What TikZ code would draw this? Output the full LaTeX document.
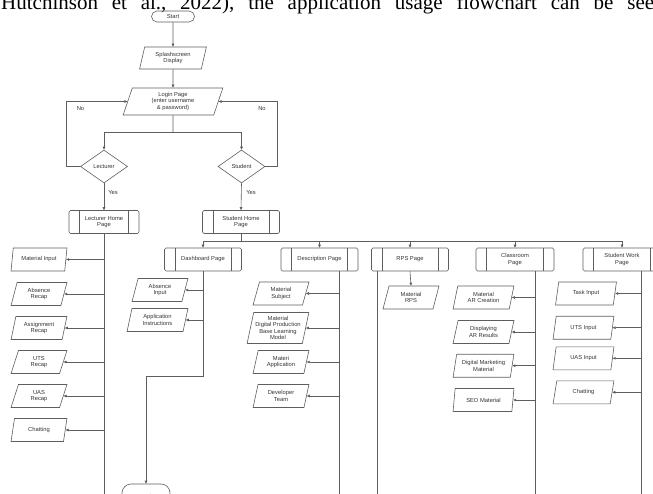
\documentclass[tikz,border=0pt]{standalone}
\usepackage{fontspec}
\setmainfont{Liberation Sans}
\newfontfamily\serifF{Liberation Serif}
\usetikzlibrary{shapes.geometric,arrows.meta}
\definecolor{lc}{HTML}{5E5E5E}
\definecolor{tc}{HTML}{333333}
\begin{document}
\begin{tikzpicture}[x=1pt,y=-1pt,
  line/.style={draw=lc, line width=0.6pt},
  arr/.style={line, -{Triangle[length=3pt,width=2.6pt]}},
  txt/.style={font=\fontsize{5.8}{6.6}\selectfont, text=tc, align=center},
  io/.style={trapezium, trapezium left angle=76, trapezium right angle=104, trapezium stretches=true,
     draw=lc, line width=0.6pt, minimum width=56pt, minimum height=23pt, inner sep=0.5pt, txt},
  pp/.style={rectangle, rounded corners=1.5pt, draw=lc, line width=0.6pt, minimum width=77pt, minimum height=23pt,
     inner sep=1pt, txt,
     path picture={
       \draw[lc, line width=0.6pt] ([xshift=10.5pt]path picture bounding box.north west) -- ([xshift=10.5pt]path picture bounding box.south west);
       \draw[lc, line width=0.6pt] ([xshift=-10.5pt]path picture bounding box.north east) -- ([xshift=-10.5pt]path picture bounding box.south east);}},
  term/.style={rectangle, rounded corners=5.5pt, draw=lc, line width=0.6pt, minimum width=43pt, minimum height=11pt, inner sep=0pt, txt},
  dia/.style={diamond, draw=lc, line width=0.6pt, minimum width=47pt, minimum height=33pt, inner sep=0pt, txt},
  lbl/.style={txt, inner sep=0pt}
]
\path[use as bounding box] (0,0) rectangle (653,494);
\clip (0,0) rectangle (653,494);

\node[anchor=base west, inner sep=0pt, font=\serifF\fontsize{21}{24}\selectfont, text=black] (toptext) at (1,9.5)
  {\frenchspacing\spaceskip=13.8pt Hutchinson et al., 2022), the application usage flowchart can be seen};

% main flow
\node[term] (start) at (173,16.5) {Start};
\node[io, minimum width=67pt, minimum height=22pt] (splash) at (173,58) {Splashscreen\\Display};
\node[io, minimum width=100pt, minimum height=27pt] (login) at (173,101.5) {Login Page\\(enter username\\\& password)};
\node[dia] (lect) at (104,166.5) {Lecturer};
\node[dia] (stud) at (241.5,166.5) {Student};
\coordinate (split) at (173,132);
\coordinate (lloop) at (66,166.5);
\coordinate (rloop) at (277,166.5);

\draw[arr] (start) -- (splash);
\draw[arr] (splash) -- (login);
\draw[line] (login.south) -- (split);
\draw[arr] (split) -| (lect.north);
\draw[arr] (split) -| (stud.north);
\draw[arr] (lect.west) -- (lloop) |- (login.west);
\draw[arr] (stud.east) -- (rloop) |- (login.east);
\node[lbl] (no1) at (80.5,109) {No};
\node[lbl] (no2) at (262,109) {No};
\node[lbl] (yes1) at (113,193) {Yes};
\node[lbl] (yes2) at (251,193) {Yes};

% home pages
\node[pp, minimum width=70pt] (lhp) at (104,222) {Lecturer Home\\Page};
\node[pp] (shp) at (241,222) {Student Home\\Page};
\draw[arr] (lect.south) -- (lhp.north);
\draw[arr] (stud.south) -- (shp.north);

% end
\node[rectangle, rounded corners=9pt, draw=lc, line width=0.6pt, minimum width=48pt, minimum height=24pt, txt] (endn) at (146,496) {End};

% lecturer items
\node[io] (lm1) at (39,259.5) {Material Input};
\node[io] (lm2) at (39,294) {Absence\\Recap};
\node[io] (lm3) at (39,328) {Assignment\\Recap};
\node[io] (lm4) at (39,362) {UTS\\Recap};
\node[io] (lm5) at (39,396) {UAS\\Recap};
\node[io] (lm6) at (39,430) {Chatting};
\draw[arr] (lhp.south) |- (endn.west);
\foreach \n in {lm1,lm2,lm3,lm4,lm5,lm6}
  \draw[arr] (lhp.south |- \n.east) -- (\n.east);

% student pages
\coordinate (bus) at (241,241);
\node[pp] (dash) at (203,259.5) {Dashboard Page};
\node[pp] (desc) at (319.5,259.5) {Description Page};
\node[pp] (rps) at (410,259.5) {RPS Page};
\node[pp, minimum width=78pt] (cls) at (515,259.5) {Classroom\\Page};
\node[pp, minimum width=78pt] (work) at (622,259.5) {Student Work\\Page};
\draw[line] (shp.south) -- (bus);
\draw[line] (dash.north |- bus) -- (work.north |- bus);
\foreach \n in {dash,desc,rps,cls,work}
  \draw[arr] (\n.north |- bus) -- (\n.north);

% dashboard
\node[io] (da1) at (160,290) {Absence\\Input};
\node[io, minimum width=61pt] (da2) at (157.5,320) {Application\\Instructions};
\coordinate (dturn) at (146,376);
\draw[arr] (dash.south) |- (dturn) -- (endn.north);
\foreach \n in {da1,da2}
  \draw[arr] (dash.south |- \n.east) -- (\n.east);

% description
\coordinate (dtr) at ([xshift=19.5pt]desc.south);
\node[io] (de1) at (281,293.5) {Material\\Subject};
\node[io, minimum width=62pt, minimum height=31pt] (de2) at (278,328) {Material\\Digital Production\\Base Learning\\Model};
\node[io] (de3) at (281,362) {Materi\\Application};
\node[io] (de4) at (281,396) {Developer\\Team};
\draw[arr] (dtr) |- (endn.east);
\foreach \n in {de1,de2,de3,de4}
  \draw[arr] (dtr |- \n.east) -- (\n.east);

% RPS
\coordinate (rtr) at ([xshift=-33pt]rps.south);
\node[io] (rp1) at (411,297.5) {Material\\RPS};
\draw[arr] (rps.south) -- (rp1.north);
\draw[line] (rtr) -- (rtr |- endn.east);

% classroom
\coordinate (ctr) at ([xshift=20pt]cls.south);
\node[io, minimum width=61pt] (cl1) at (483.5,297.5) {Material\\AR Creation};
\node[io, minimum width=61pt] (cl2) at (483.5,332) {Displaying\\AR Results};
\node[io, minimum width=61pt] (cl3) at (483.5,365.7) {Digital Marketing\\Material};
\node[io, minimum width=61pt] (cl4) at (483.5,400) {SEO Material};
\draw[line] (ctr) -- (ctr |- endn.east);
\foreach \n in {cl1,cl2,cl3,cl4}
  \draw[arr] (ctr |- \n.east) -- (\n.east);

% student work
\coordinate (wtr) at ([xshift=19pt]work.south);
\node[io, minimum width=61pt] (sw1) at (586,293.5) {Task Input};
\node[io, minimum width=61pt] (sw2) at (583.5,327.7) {UTS Input};
\node[io, minimum width=61pt] (sw3) at (583.5,358.3) {UAS Input};
\node[io, minimum width=61pt] (sw4) at (583.5,392.3) {Chatting};
\draw[line] (wtr) -- (wtr |- endn.east);
\foreach \n in {sw1,sw2,sw3,sw4}
  \draw[arr] (wtr |- \n.east) -- (\n.east);
\end{tikzpicture}
\end{document}
